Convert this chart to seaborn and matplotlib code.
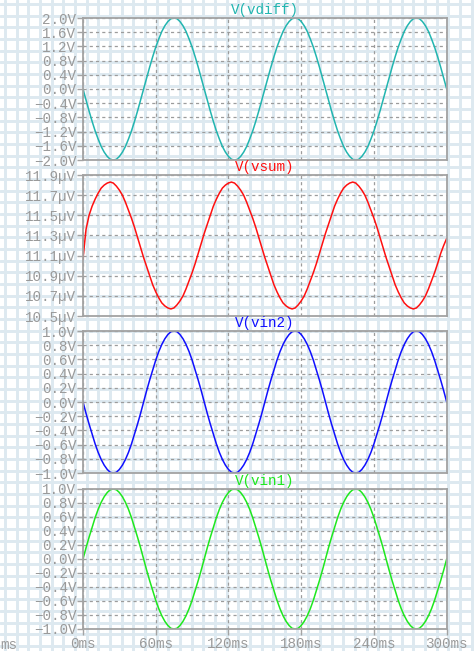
import numpy as np
import pandas as pd
import matplotlib
matplotlib.use('Agg')
import matplotlib.pyplot as plt
import seaborn as sns

# ---- data (time in ms, 2.5 ms steps) ----
t_ms = [0, 2.5, 5, 7.5, 10, 12.5, 15, 17.5, 20, 22.5, 25, 27.5, 30, 32.5, 35, 37.5, 40, 42.5, 45, 47.5,
        50, 52.5, 55, 57.5, 60, 62.5, 65, 67.5, 70, 72.5, 75, 77.5, 80, 82.5, 85, 87.5, 90, 92.5, 95, 97.5,
        100, 102.5, 105, 107.5, 110, 112.5, 115, 117.5, 120, 122.5, 125, 127.5, 130, 132.5, 135, 137.5, 140, 142.5, 145, 147.5,
        150, 152.5, 155, 157.5, 160, 162.5, 165, 167.5, 170, 172.5, 175, 177.5, 180, 182.5, 185, 187.5, 190, 192.5, 195, 197.5,
        200, 202.5, 205, 207.5, 210, 212.5, 215, 217.5, 220, 222.5, 225, 227.5, 230, 232.5, 235, 237.5, 240, 242.5, 245, 247.5,
        250, 252.5, 255, 257.5, 260, 262.5, 265, 267.5, 270, 272.5, 275, 277.5, 280, 282.5, 285, 287.5, 290, 292.5, 295, 297.5,
        300]

vin1 = [0.0, 0.16, 0.31, 0.45, 0.59, 0.71, 0.81, 0.89, 0.95, 0.99, 1.0, 0.99, 0.95, 0.89, 0.81, 0.71, 0.59, 0.45, 0.31, 0.16,
        0.0, -0.16, -0.31, -0.45, -0.59, -0.71, -0.81, -0.89, -0.95, -0.99, -1.0, -0.99, -0.95, -0.89, -0.81, -0.71, -0.59, -0.45, -0.31, -0.16,
        0.0, 0.16, 0.31, 0.45, 0.59, 0.71, 0.81, 0.89, 0.95, 0.99, 1.0, 0.99, 0.95, 0.89, 0.81, 0.71, 0.59, 0.45, 0.31, 0.16,
        0.0, -0.16, -0.31, -0.45, -0.59, -0.71, -0.81, -0.89, -0.95, -0.99, -1.0, -0.99, -0.95, -0.89, -0.81, -0.71, -0.59, -0.45, -0.31, -0.16,
        0.0, 0.16, 0.31, 0.45, 0.59, 0.71, 0.81, 0.89, 0.95, 0.99, 1.0, 0.99, 0.95, 0.89, 0.81, 0.71, 0.59, 0.45, 0.31, 0.16,
        0.0, -0.16, -0.31, -0.45, -0.59, -0.71, -0.81, -0.89, -0.95, -0.99, -1.0, -0.99, -0.95, -0.89, -0.81, -0.71, -0.59, -0.45, -0.31, -0.16,
        0.0]

vin2 = [0.0, -0.16, -0.31, -0.45, -0.59, -0.71, -0.81, -0.89, -0.95, -0.99, -1.0, -0.99, -0.95, -0.89, -0.81, -0.71, -0.59, -0.45, -0.31, -0.16,
        0.0, 0.16, 0.31, 0.45, 0.59, 0.71, 0.81, 0.89, 0.95, 0.99, 1.0, 0.99, 0.95, 0.89, 0.81, 0.71, 0.59, 0.45, 0.31, 0.16,
        0.0, -0.16, -0.31, -0.45, -0.59, -0.71, -0.81, -0.89, -0.95, -0.99, -1.0, -0.99, -0.95, -0.89, -0.81, -0.71, -0.59, -0.45, -0.31, -0.16,
        0.0, 0.16, 0.31, 0.45, 0.59, 0.71, 0.81, 0.89, 0.95, 0.99, 1.0, 0.99, 0.95, 0.89, 0.81, 0.71, 0.59, 0.45, 0.31, 0.16,
        0.0, -0.16, -0.31, -0.45, -0.59, -0.71, -0.81, -0.89, -0.95, -0.99, -1.0, -0.99, -0.95, -0.89, -0.81, -0.71, -0.59, -0.45, -0.31, -0.16,
        0.0, 0.16, 0.31, 0.45, 0.59, 0.71, 0.81, 0.89, 0.95, 0.99, 1.0, 0.99, 0.95, 0.89, 0.81, 0.71, 0.59, 0.45, 0.31, 0.16,
        0.0]

vdiff = [0.0, -0.31, -0.62, -0.91, -1.18, -1.41, -1.62, -1.78, -1.90, -1.98, -2.0, -1.98, -1.90, -1.78, -1.62, -1.41, -1.18, -0.91, -0.62, -0.31,
         0.0, 0.31, 0.62, 0.91, 1.18, 1.41, 1.62, 1.78, 1.90, 1.98, 2.0, 1.98, 1.90, 1.78, 1.62, 1.41, 1.18, 0.91, 0.62, 0.31,
         0.0, -0.31, -0.62, -0.91, -1.18, -1.41, -1.62, -1.78, -1.90, -1.98, -2.0, -1.98, -1.90, -1.78, -1.62, -1.41, -1.18, -0.91, -0.62, -0.31,
         0.0, 0.31, 0.62, 0.91, 1.18, 1.41, 1.62, 1.78, 1.90, 1.98, 2.0, 1.98, 1.90, 1.78, 1.62, 1.41, 1.18, 0.91, 0.62, 0.31,
         0.0, -0.31, -0.62, -0.91, -1.18, -1.41, -1.62, -1.78, -1.90, -1.98, -2.0, -1.98, -1.90, -1.78, -1.62, -1.41, -1.18, -0.91, -0.62, -0.31,
         0.0, 0.31, 0.62, 0.91, 1.18, 1.41, 1.62, 1.78, 1.90, 1.98, 2.0, 1.98, 1.90, 1.78, 1.62, 1.41, 1.18, 0.91, 0.62, 0.31,
         0.0]

# vsum in microvolts (same time grid), with a small start-up step
vsum_uv = [11.07, 11.36, 11.50, 11.59, 11.66, 11.72, 11.77, 11.80, 11.82, 11.83, 11.82, 11.79, 11.75, 11.70, 11.63, 11.55, 11.47, 11.38, 11.28, 11.18,
           11.08, 10.99, 10.90, 10.81, 10.74, 10.68, 10.63, 10.60, 10.58, 10.57, 10.58, 10.61, 10.65, 10.70, 10.77, 10.85, 10.93, 11.02, 11.12, 11.22,
           11.32, 11.41, 11.50, 11.59, 11.66, 11.72, 11.77, 11.80, 11.82, 11.83, 11.82, 11.79, 11.75, 11.70, 11.63, 11.55, 11.47, 11.38, 11.28, 11.18,
           11.08, 10.99, 10.90, 10.81, 10.74, 10.68, 10.63, 10.60, 10.58, 10.57, 10.58, 10.61, 10.65, 10.70, 10.77, 10.85, 10.93, 11.02, 11.12, 11.22,
           11.32, 11.41, 11.50, 11.59, 11.66, 11.72, 11.77, 11.80, 11.82, 11.83, 11.82, 11.79, 11.75, 11.70, 11.63, 11.55, 11.47, 11.38, 11.28, 11.18,
           11.08, 10.99, 10.90, 10.81, 10.74, 10.68, 10.63, 10.60, 10.58, 10.57, 10.58, 10.61, 10.65, 10.70, 10.77, 10.85, 10.93, 11.02, 11.12, 11.20,
           11.27]

x_ticks = [0, 60, 120, 180, 240, 300]
x_labels = ["0ms", "60ms", "120ms", "180ms", "240ms", "300ms"]

panels = [
    ("V(vdiff)", vdiff, "#22b5b0", (-2.0, 2.0), 0.4, "V"),
    ("V(vsum)", vsum_uv, "#ff1010", (10.5, 11.9), 0.2, "\u00b5V"),
    ("V(vin2)", vin2, "#1010ff", (-1.0, 1.0), 0.2, "V"),
    ("V(vin1)", vin1, "#1ee81e", (-1.0, 1.0), 0.2, "V"),
]

# panel rectangles in pixels: top, bottom
W, H = 474, 651
x_left, x_right = 83, 446.7
rows = [(18, 160), (175, 316), (331, 473), (489, 629)]

sns.set_theme(style="white")
plt.rcParams['font.family'] = ['Liberation Mono', 'DejaVu Sans Mono']

grey_txt = "#9a9a9a"
grey_line = "#a3a3a3"
fs = 10.3

fig = plt.figure(figsize=(W / 100, H / 100), dpi=100)

# graph-paper background
bg = fig.add_axes([0, 0, 1, 1], zorder=-10)
bg.set_xlim(0, W)
bg.set_ylim(H, 0)
bg.axis('off')
for gx in np.arange(5, W, 11.67):
    bg.axvline(gx, color="#dde9f0", lw=2.1)
for gy in np.arange(4, H, 11.67):
    bg.axhline(gy, color="#dde9f0", lw=2.1)

def fmt(v, unit):
    s = f"{v:.1f}{unit}"
    return s.replace("-", "\u2212")

for i, (title, vals, col, ylim, step, unit) in enumerate(panels):
    top, bot = rows[i]
    ax = fig.add_axes([x_left / W, 1 - bot / H, (x_right - x_left) / W, (bot - top) / H])
    ax.set_facecolor('none')
    df = pd.DataFrame({"t": t_ms, "v": vals})
    sns.lineplot(data=df, x="t", y="v", ax=ax, color=col, linewidth=1.1, sort=False)
    ax.set_xlim(0, 300)
    ax.set_ylim(*ylim)
    n = int(round((ylim[1] - ylim[0]) / step))
    yt = [ylim[0] + k * step for k in range(n + 1)]
    ax.set_yticks(yt)
    ax.set_yticklabels([fmt(v, unit) for v in yt])
    ax.set_xticks(x_ticks)
    ax.set_xlabel("")
    ax.set_ylabel("")
    ax.grid(True, color="#9c9c9c", linestyle=(0, (2.5, 2.5)), linewidth=0.9)
    for sp in ax.spines.values():
        sp.set_color(grey_line)
        sp.set_linewidth(1.3)
    ax.tick_params(axis='y', left=True, direction='out', length=4.3, width=1,
                   color=grey_line, labelcolor=grey_txt, labelsize=fs, pad=0.5)
    if i == len(panels) - 1:
        ax.set_xticklabels(x_labels)
        ax.tick_params(axis='x', bottom=True, direction='out', length=4.3, width=1,
                       color=grey_line, labelcolor=grey_txt, labelsize=fs, pad=1.5)
    else:
        ax.tick_params(axis='x', bottom=False, labelbottom=False)
    ax.annotate(title, xy=(0.5, 1), xycoords='axes fraction', xytext=(0, 5.8),
                textcoords='offset points', ha='center', va='center',
                color=col, fontsize=fs)

# label remnant at the lower left
fig.text(0, 1 - 645 / H, "ms", ha='left', va='center', color=grey_txt, fontsize=fs)

fig.savefig("out.png", dpi=100)
